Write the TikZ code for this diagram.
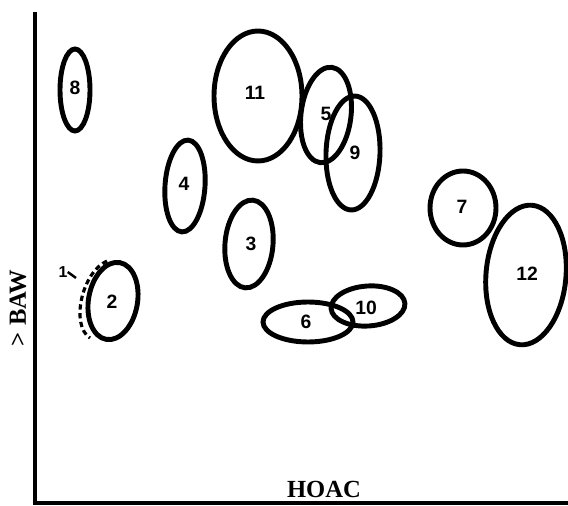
\documentclass[tikz,border=0pt]{standalone}
\usepackage{fontspec}
\setmainfont{Liberation Serif}
\newfontfamily\numfont{Liberation Sans}
\usepackage{tikz}
\usetikzlibrary{shapes.geometric}
\tikzstyle{blob} = [ellipse, draw, line width=2.8pt, inner sep=0pt]
\tikzstyle{num} = [inner sep=0pt, font=\numfont\bfseries\fontsize{11}{13}\selectfont]
\tikzstyle{axis} = [line width=1.8pt]
\tikzstyle{axlabel} = [font=\bfseries\fontsize{14}{16}\selectfont]

\begin{document}
\begin{tikzpicture}[x=0.02cm, y=-0.02cm]
	\useasboundingbox (0,0) rectangle (568,506);
	\coordinate (top) at (35,12);
	\coordinate (orig) at (35,503);
	\coordinate (right) at (569,503);
	\draw [axis] (top) -- (orig) -- (right);
	
	\node (baw) [axlabel, rotate=90] at (18,308) {> BAW};
	\node (hoac) [axlabel] at (324,489) {HOAC};
	
	\node (c8) [blob, minimum width=0.60cm, minimum height=1.64cm] at (75,90) {};
	\node (c11) [blob, minimum width=1.76cm, minimum height=2.60cm] at (258,96) {};
	\node (c5) [blob, minimum width=1.00cm, minimum height=1.92cm, rotate=-7] at (326,115) {};
	\node (c9) [blob, minimum width=1.08cm, minimum height=2.28cm, rotate=-2] at (353,153) {};
	\node (c4) [blob, minimum width=0.80cm, minimum height=1.84cm, rotate=-4] at (185,186) {};
	\node (c3) [blob, minimum width=0.96cm, minimum height=1.76cm, rotate=-5] at (249,244) {};
	\node (c7) [blob, minimum width=1.32cm, minimum height=1.48cm] at (463,208) {};
	\node (c12) [blob, minimum width=1.60cm, minimum height=2.80cm, rotate=-5] at (526,275) {};
	\node (c6) [blob, minimum width=1.80cm, minimum height=0.80cm] at (308,322) {};
	\node (c10) [blob, minimum width=1.48cm, minimum height=0.80cm, rotate=4] at (368,306) {};
	\node (c2) [blob, minimum width=0.98cm, minimum height=1.56cm, rotate=-10] at (113,301) {};
	
	% numbers
	\node (l8) [num] at (75,88) {8};
	\node (l11) [num] at (255,93) {11};
	\node (l5) [num] at (326,114) {5};
	\node (l9) [num] at (355,153) {9};
	\node (l4) [num] at (184,184) {4};
	\node (l3) [num] at (251,244) {3};
	\node (l7) [num] at (462,207) {7};
	\node (l12) [num] at (527,274) {12};
	\node (l6) [num] at (306,322) {6};
	\node (l10) [num] at (366,308) {10};
	\node (l2) [num] at (112,302) {2};
	
	% group 1, dashed outline left of 2
	\draw [dashed, dash pattern=on 3pt off 2pt, line width=1.8pt] (107,261) .. controls (82,272) and (70,325) .. (90,338);
	\node (n1) [num, font=\numfont\bfseries\fontsize{9}{10}\selectfont] at (63,272) {1};
	\coordinate (t1) at (76,278);
	\draw [line width=1.4pt] (n1.east) -- (t1);
\end{tikzpicture}
\end{document}
